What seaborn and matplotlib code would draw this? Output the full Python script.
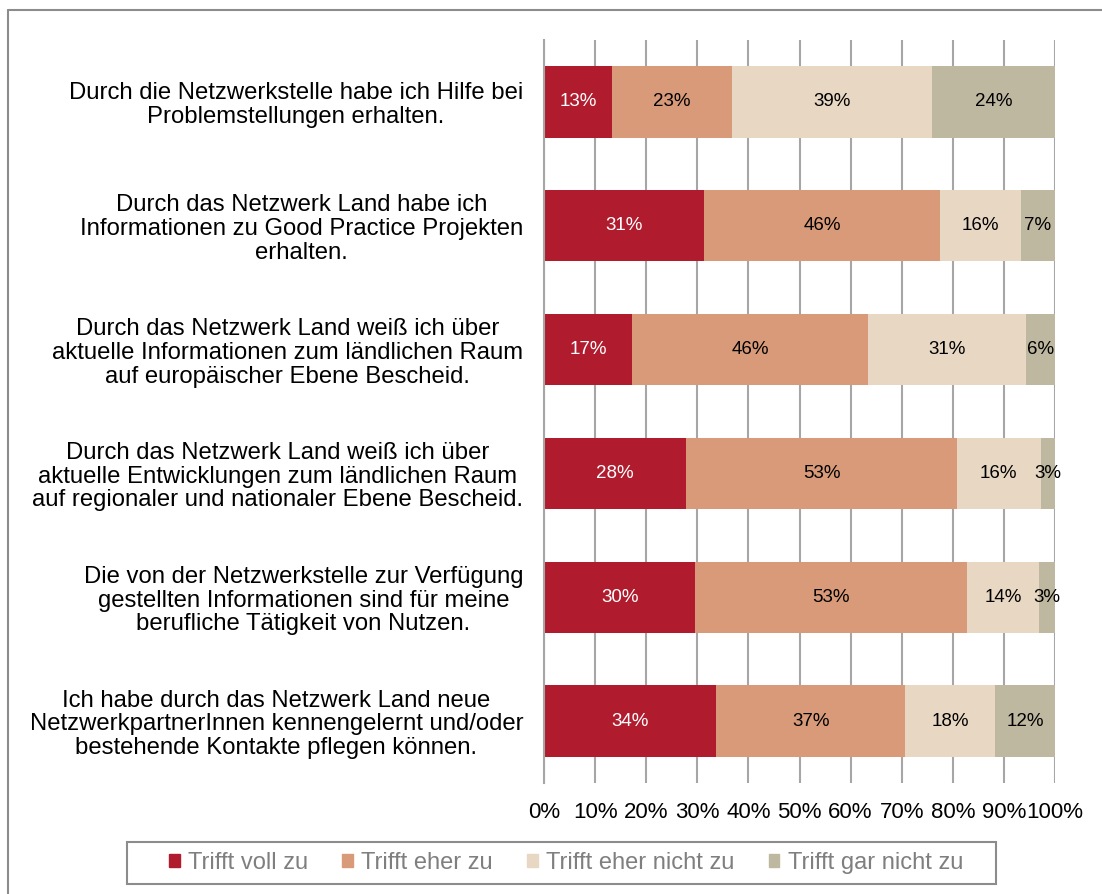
import numpy as np
import pandas as pd
import matplotlib.pyplot as plt
import matplotlib.patches as mpatches
from matplotlib.lines import Line2D
import seaborn as sns

# ── data ─────────────────────────────────────────────
questions = [
    'Durch die Netzwerkstelle habe ich Hilfe bei\nProblemstellungen erhalten.',
    'Durch das Netzwerk Land habe ich\nInformationen zu Good Practice Projekten\nerhalten.',
    'Durch das Netzwerk Land weiß ich über\naktuelle Informationen zum ländlichen Raum\nauf europäischer Ebene Bescheid.',
    'Durch das Netzwerk Land weiß ich über\naktuelle Entwicklungen zum ländlichen Raum\nauf regionaler und nationaler Ebene Bescheid.',
    'Die von der Netzwerkstelle zur Verfügung\ngestellten Informationen sind für meine\nberufliche Tätigkeit von Nutzen.',
    'Ich habe durch das Netzwerk Land neue\nNetzwerkpartnerInnen kennengelernt und/oder\nbestehende Kontakte pflegen können.',
]
categories = ['Trifft voll zu', 'Trifft eher zu', 'Trifft eher nicht zu', 'Trifft gar nicht zu']
voll = [13.3, 31.3, 17.2, 27.8, 29.6, 33.7]
eher = [23.4, 46.2, 46.2, 53.0, 53.2, 37.0]
eher_nicht = [39.2, 15.8, 31.0, 16.4, 14.0, 17.6]
gar_nicht = [24.1, 6.7, 5.6, 2.8, 3.2, 11.7]
colors = ['#B01C2E', '#D89A78', '#E8D8C3', '#BFB8A0']
text_colors = ['white', 'black', 'black', 'black']

df = pd.DataFrame({'frage': questions, categories[0]: voll, categories[1]: eher,
                   categories[2]: eher_nicht, categories[3]: gar_nicht})
cum = df[categories].cumsum(axis=1)

sns.set_theme(style='white')
plt.rcParams['font.family'] = ['Liberation Sans', 'DejaVu Sans']

fig = plt.figure(figsize=(11.02, 8.94), dpi=100)
ax = fig.add_axes([544 / 1102, 1 - 783 / 894, 511 / 1102, 743 / 894])

# gridlines behind bars
ax.set_axisbelow(True)
ax.xaxis.grid(True, color='#A6A6A6', linewidth=1.5)
ax.yaxis.grid(False)

# stacked bars: draw cumulative totals from the longest to the shortest
for i in range(len(categories) - 1, -1, -1):
    sns.barplot(x=cum[categories[i]], y=df['frage'], orient='h', color=colors[i],
                width=0.575, saturation=1, ax=ax, linewidth=0)

# value labels in the middle of each segment
for i, cat in enumerate(categories):
    for j in range(len(df)):
        v = df[cat].iloc[j]
        xc = cum[cat].iloc[j] - v / 2
        ax.text(xc, j, f'{v:.0f}%', ha='center', va='center', fontsize=13.5,
                color=text_colors[i])

ax.set_xlim(0, 100)
ax.set_ylim(len(df) - 0.5, -0.5)
ax.set_xticks(np.arange(0, 101, 10))
ax.set_xticklabels([f'{t}%' for t in range(0, 101, 10)], fontsize=16, color='black')
ax.tick_params(axis='x', length=0, pad=14)
ax.tick_params(axis='y', length=0, pad=15)
for lab in ax.get_yticklabels():
    lab.set_fontsize(17.2)
    lab.set_color('black')
    lab.set_multialignment('center')
    lab.set_linespacing(1.1)
ax.set_xlabel('')
ax.set_ylabel('')
for s in ['top', 'right', 'bottom']:
    ax.spines[s].set_visible(False)
ax.spines['left'].set_color('#A6A6A6')
ax.spines['left'].set_linewidth(1.5)

# legend (entries without frame, box drawn separately like the Excel original)
handles = [mpatches.Patch(color=c, label=l) for c, l in zip(colors, categories)]
leg = fig.legend(handles=handles, loc='center', bbox_to_anchor=(566 / 1102, 1 - 863 / 894),
                 ncol=4, frameon=False, fontsize=17, handlelength=0.45, handleheight=0.45,
                 handletextpad=0.35, columnspacing=1.45, borderpad=0.4)
for t in leg.get_texts():
    t.set_color('#7F7F7F')
fig.add_artist(mpatches.Rectangle((127 / 1102, 1 - 884 / 894), 869 / 1102, 42 / 894,
                                  transform=fig.transFigure, fill=False,
                                  edgecolor='#8C8C8C', linewidth=1.5))

# outer frame (left and top edges visible)
fig.add_artist(Line2D([8 / 1102, 8 / 1102], [0, 1 - 10 / 894], color='#8C8C8C', lw=1.5,
                      transform=fig.transFigure))
fig.add_artist(Line2D([8 / 1102, 1], [1 - 10 / 894, 1 - 10 / 894], color='#8C8C8C', lw=1.5,
                      transform=fig.transFigure))

fig.savefig('out.png', dpi=100)
